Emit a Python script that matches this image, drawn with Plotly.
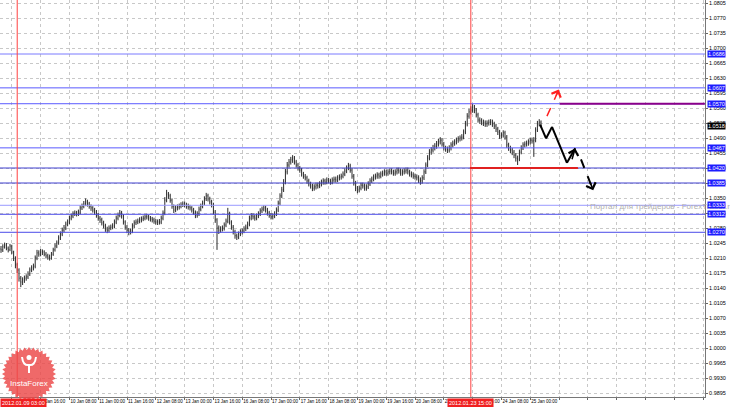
import math
import pandas as pd
import plotly.graph_objects as go

# hourly EURUSD-style bars, open of each bar = close of the previous one
first_open = 1.0231
closes = [
    1.0229, 1.0236, 1.0240, 1.0233, 1.0229, 1.0238, 1.0224, 1.0210, 1.0194, 1.0182,
    1.0163, 1.0154, 1.0159, 1.0163, 1.0166, 1.0173, 1.0182, 1.0187, 1.0191, 1.0210,
    1.0222, 1.0219, 1.0224, 1.0224, 1.0219, 1.0215, 1.0212, 1.0210, 1.0219, 1.0229,
    1.0238, 1.0245, 1.0257, 1.0266, 1.0275, 1.0280, 1.0289, 1.0294, 1.0303, 1.0308,
    1.0313, 1.0315, 1.0313, 1.0317, 1.0327, 1.0331, 1.0336, 1.0341, 1.0336, 1.0331,
    1.0327, 1.0322, 1.0317, 1.0310, 1.0303, 1.0299, 1.0292, 1.0285, 1.0278, 1.0275,
    1.0280, 1.0282, 1.0285, 1.0294, 1.0303, 1.0310, 1.0315, 1.0308, 1.0294, 1.0282,
    1.0275, 1.0271, 1.0273, 1.0285, 1.0292, 1.0294, 1.0296, 1.0299, 1.0301, 1.0303,
    1.0306, 1.0306, 1.0303, 1.0301, 1.0299, 1.0296, 1.0294, 1.0294, 1.0294, 1.0303,
    1.0315, 1.0345, 1.0359, 1.0355, 1.0345, 1.0331, 1.0322, 1.0327, 1.0329, 1.0331,
    1.0334, 1.0336, 1.0334, 1.0331, 1.0329, 1.0327, 1.0322, 1.0317, 1.0310, 1.0313,
    1.0324, 1.0331, 1.0338, 1.0348, 1.0355, 1.0348, 1.0341, 1.0334, 1.0317, 1.0299,
    1.0280, 1.0275, 1.0278, 1.0280, 1.0287, 1.0296, 1.0313, 1.0294, 1.0282, 1.0271,
    1.0262, 1.0259, 1.0266, 1.0271, 1.0273, 1.0278, 1.0282, 1.0289, 1.0303, 1.0308,
    1.0306, 1.0303, 1.0308, 1.0313, 1.0320, 1.0324, 1.0327, 1.0322, 1.0315, 1.0310,
    1.0306, 1.0308, 1.0313, 1.0322, 1.0338, 1.0355, 1.0369, 1.0387, 1.0411, 1.0427,
    1.0434, 1.0439, 1.0443, 1.0434, 1.0427, 1.0420, 1.0415, 1.0406, 1.0401, 1.0397,
    1.0390, 1.0383, 1.0378, 1.0373, 1.0376, 1.0380, 1.0378, 1.0383, 1.0387, 1.0390,
    1.0387, 1.0392, 1.0390, 1.0387, 1.0392, 1.0394, 1.0392, 1.0397, 1.0399, 1.0401,
    1.0406, 1.0413, 1.0420, 1.0425, 1.0415, 1.0401, 1.0385, 1.0373, 1.0369, 1.0373,
    1.0380, 1.0378, 1.0373, 1.0376, 1.0383, 1.0390, 1.0394, 1.0399, 1.0401, 1.0404,
    1.0401, 1.0406, 1.0408, 1.0411, 1.0408, 1.0411, 1.0413, 1.0411, 1.0408, 1.0411,
    1.0415, 1.0413, 1.0408, 1.0411, 1.0413, 1.0415, 1.0411, 1.0406, 1.0404, 1.0401,
    1.0399, 1.0397, 1.0392, 1.0390, 1.0397, 1.0411, 1.0427, 1.0443, 1.0457, 1.0462,
    1.0467, 1.0471, 1.0476, 1.0481, 1.0485, 1.0476, 1.0467, 1.0464, 1.0462, 1.0467,
    1.0474, 1.0478, 1.0481, 1.0485, 1.0488, 1.0490, 1.0492, 1.0504, 1.0523, 1.0541,
    1.0551, 1.0555, 1.0562, 1.0555, 1.0544, 1.0532, 1.0530, 1.0527, 1.0525, 1.0523,
    1.0525, 1.0527, 1.0527, 1.0523, 1.0518, 1.0511, 1.0504, 1.0495, 1.0497, 1.0502,
    1.0492, 1.0474, 1.0467, 1.0462, 1.0457, 1.0450, 1.0443, 1.0441, 1.0457, 1.0467,
    1.0474, 1.0476, 1.0478, 1.0481, 1.0485, 1.0483, 1.0485, 1.0509, 1.0523, 1.0527,
    1.0518,
]
highs = [
    1.0238, 1.0242, 1.0246, 1.0245, 1.0237, 1.0243, 1.0241, 1.0227, 1.0214, 1.0199,
    1.0186, 1.0168, 1.0165, 1.0169, 1.0172, 1.0179, 1.0188, 1.0193, 1.0197, 1.0216,
    1.0229, 1.0228, 1.0231, 1.0230, 1.0228, 1.0224, 1.0220, 1.0218, 1.0224, 1.0234,
    1.0244, 1.0251, 1.0263, 1.0272, 1.0281, 1.0287, 1.0295, 1.0300, 1.0309, 1.0314,
    1.0319, 1.0321, 1.0320, 1.0323, 1.0333, 1.0337, 1.0343, 1.0349, 1.0346, 1.0341,
    1.0335, 1.0331, 1.0327, 1.0322, 1.0315, 1.0308, 1.0304, 1.0297, 1.0290, 1.0283,
    1.0286, 1.0288, 1.0291, 1.0300, 1.0309, 1.0316, 1.0322, 1.0320, 1.0312, 1.0298,
    1.0287, 1.0280, 1.0279, 1.0291, 1.0298, 1.0300, 1.0302, 1.0305, 1.0307, 1.0309,
    1.0312, 1.0313, 1.0311, 1.0308, 1.0306, 1.0304, 1.0301, 1.0300, 1.0301, 1.0309,
    1.0321, 1.0352, 1.0369, 1.0364, 1.0360, 1.0349, 1.0335, 1.0333, 1.0335, 1.0337,
    1.0340, 1.0342, 1.0342, 1.0339, 1.0337, 1.0334, 1.0331, 1.0327, 1.0321, 1.0319,
    1.0330, 1.0337, 1.0344, 1.0354, 1.0362, 1.0360, 1.0353, 1.0346, 1.0339, 1.0322,
    1.0303, 1.0286, 1.0284, 1.0286, 1.0293, 1.0302, 1.0327, 1.0318, 1.0298, 1.0287,
    1.0276, 1.0267, 1.0272, 1.0277, 1.0279, 1.0284, 1.0288, 1.0295, 1.0309, 1.0315,
    1.0314, 1.0311, 1.0314, 1.0319, 1.0326, 1.0330, 1.0333, 1.0332, 1.0327, 1.0320,
    1.0315, 1.0314, 1.0319, 1.0328, 1.0344, 1.0361, 1.0376, 1.0394, 1.0418, 1.0434,
    1.0441, 1.0446, 1.0450, 1.0448, 1.0439, 1.0432, 1.0425, 1.0420, 1.0411, 1.0406,
    1.0402, 1.0395, 1.0388, 1.0383, 1.0382, 1.0386, 1.0386, 1.0389, 1.0393, 1.0396,
    1.0395, 1.0398, 1.0397, 1.0395, 1.0398, 1.0400, 1.0400, 1.0403, 1.0405, 1.0407,
    1.0412, 1.0419, 1.0426, 1.0432, 1.0430, 1.0420, 1.0406, 1.0390, 1.0378, 1.0379,
    1.0386, 1.0386, 1.0384, 1.0382, 1.0389, 1.0396, 1.0400, 1.0405, 1.0407, 1.0410,
    1.0409, 1.0412, 1.0414, 1.0417, 1.0416, 1.0417, 1.0419, 1.0419, 1.0416, 1.0417,
    1.0421, 1.0421, 1.0419, 1.0417, 1.0419, 1.0421, 1.0421, 1.0416, 1.0412, 1.0410,
    1.0407, 1.0405, 1.0403, 1.0398, 1.0403, 1.0417, 1.0433, 1.0450, 1.0464, 1.0469,
    1.0474, 1.0478, 1.0483, 1.0488, 1.0492, 1.0490, 1.0481, 1.0472, 1.0470, 1.0473,
    1.0480, 1.0484, 1.0487, 1.0491, 1.0494, 1.0496, 1.0499, 1.0510, 1.0530, 1.0548,
    1.0558, 1.0564, 1.0569, 1.0567, 1.0560, 1.0549, 1.0538, 1.0536, 1.0533, 1.0531,
    1.0531, 1.0533, 1.0534, 1.0533, 1.0528, 1.0523, 1.0516, 1.0509, 1.0503, 1.0508,
    1.0507, 1.0497, 1.0479, 1.0472, 1.0467, 1.0462, 1.0455, 1.0449, 1.0463, 1.0473,
    1.0480, 1.0482, 1.0484, 1.0487, 1.0491, 1.0491, 1.0492, 1.0515, 1.0530, 1.0534,
    1.0531,
]
lows = [
    1.0222, 1.0224, 1.0232, 1.0228, 1.0223, 1.0226, 1.0219, 1.0203, 1.0186, 1.0175,
    1.0155, 1.0142, 1.0147, 1.0152, 1.0157, 1.0161, 1.0168, 1.0177, 1.0181, 1.0186,
    1.0205, 1.0213, 1.0214, 1.0217, 1.0214, 1.0209, 1.0206, 1.0204, 1.0206, 1.0215,
    1.0225, 1.0233, 1.0241, 1.0252, 1.0261, 1.0270, 1.0275, 1.0284, 1.0289, 1.0298,
    1.0303, 1.0308, 1.0307, 1.0308, 1.0312, 1.0322, 1.0326, 1.0331, 1.0330, 1.0325,
    1.0320, 1.0316, 1.0311, 1.0304, 1.0297, 1.0292, 1.0286, 1.0279, 1.0271, 1.0268,
    1.0270, 1.0275, 1.0277, 1.0280, 1.0289, 1.0298, 1.0305, 1.0302, 1.0288, 1.0276,
    1.0268, 1.0263, 1.0265, 1.0268, 1.0280, 1.0287, 1.0289, 1.0291, 1.0293, 1.0296,
    1.0298, 1.0300, 1.0297, 1.0295, 1.0293, 1.0290, 1.0288, 1.0287, 1.0288, 1.0289,
    1.0298, 1.0310, 1.0340, 1.0348, 1.0339, 1.0325, 1.0315, 1.0317, 1.0321, 1.0323,
    1.0326, 1.0329, 1.0328, 1.0325, 1.0323, 1.0321, 1.0316, 1.0311, 1.0303, 1.0304,
    1.0308, 1.0319, 1.0326, 1.0333, 1.0343, 1.0342, 1.0335, 1.0328, 1.0311, 1.0292,
    1.0229, 1.0266, 1.0269, 1.0272, 1.0274, 1.0282, 1.0291, 1.0288, 1.0276, 1.0265,
    1.0255, 1.0252, 1.0254, 1.0261, 1.0265, 1.0268, 1.0273, 1.0277, 1.0284, 1.0298,
    1.0300, 1.0297, 1.0298, 1.0303, 1.0308, 1.0315, 1.0319, 1.0316, 1.0309, 1.0304,
    1.0300, 1.0300, 1.0303, 1.0308, 1.0317, 1.0333, 1.0350, 1.0364, 1.0382, 1.0405,
    1.0421, 1.0428, 1.0432, 1.0428, 1.0421, 1.0414, 1.0409, 1.0400, 1.0395, 1.0391,
    1.0384, 1.0377, 1.0372, 1.0366, 1.0367, 1.0370, 1.0372, 1.0373, 1.0377, 1.0381,
    1.0381, 1.0382, 1.0384, 1.0381, 1.0382, 1.0386, 1.0386, 1.0387, 1.0391, 1.0393,
    1.0396, 1.0401, 1.0408, 1.0415, 1.0409, 1.0395, 1.0379, 1.0366, 1.0361, 1.0363,
    1.0368, 1.0372, 1.0367, 1.0367, 1.0371, 1.0378, 1.0385, 1.0389, 1.0393, 1.0395,
    1.0395, 1.0396, 1.0400, 1.0402, 1.0402, 1.0402, 1.0405, 1.0405, 1.0402, 1.0402,
    1.0405, 1.0407, 1.0402, 1.0402, 1.0405, 1.0407, 1.0405, 1.0400, 1.0398, 1.0395,
    1.0393, 1.0391, 1.0385, 1.0381, 1.0384, 1.0392, 1.0406, 1.0422, 1.0438, 1.0451,
    1.0456, 1.0461, 1.0465, 1.0470, 1.0475, 1.0470, 1.0461, 1.0458, 1.0455, 1.0456,
    1.0461, 1.0468, 1.0472, 1.0475, 1.0479, 1.0482, 1.0484, 1.0487, 1.0499, 1.0517,
    1.0535, 1.0545, 1.0549, 1.0548, 1.0538, 1.0526, 1.0523, 1.0520, 1.0518, 1.0516,
    1.0516, 1.0519, 1.0520, 1.0516, 1.0511, 1.0504, 1.0497, 1.0488, 1.0489, 1.0491,
    1.0486, 1.0467, 1.0460, 1.0455, 1.0450, 1.0443, 1.0435, 1.0427, 1.0436, 1.0452,
    1.0462, 1.0468, 1.0470, 1.0472, 1.0475, 1.0477, 1.0446, 1.0480, 1.0504, 1.0517,
    1.0514,
]

# support / resistance levels drawn on the chart
levels = [1.0686, 1.0607, 1.0570, 1.0467, 1.0420, 1.0385, 1.0333, 1.0312, 1.0270]
level_colors = ['#7a7aff', '#5a5aff', '#5a5aff', '#5a5aff', '#4040d0',
                '#4040d0', '#9a9aff', '#4a4ae8', '#4a4ae8']
last_price = 1.0518

first_bar = "2012-01-06 18:00"
marked_times = ["2012-01-09 03:00", "2012-01-23 15:00"]
watermark = "Портал для трейдеров - ForexTrader.ru"

W, H = 730, 407
PLOT_W, PLOT_H = 705, 397


def hourly_bars(start, count):
    """Hourly bar times with weekends skipped (one bar per index)."""
    t = pd.Timestamp(start)
    out = []
    while len(out) < count:
        if t.weekday() < 5:
            out.append(t)
        t += pd.Timedelta(hours=1)
    return out


bar_times = hourly_bars(first_bar, len(closes))
idx = list(range(len(closes)))
opens = [first_open] + closes[:-1]

# x axis labels every 16 bars, like the terminal does
tick_vals = list(range(6, 400, 16))
tick_text = []
for v in tick_vals:
    if v < len(bar_times):
        t = bar_times[v]
        tick_text.append(f"{t.day} {t:%b} {t:%H:%M}")
    else:
        tick_text.append("")

fig = go.Figure()
fig.add_trace(go.Ohlc(x=idx, open=opens, high=highs, low=lows, close=closes,
                      increasing_line_color='#2a2a2a', decreasing_line_color='#2a2a2a',
                      line_width=1, tickwidth=0.25, hoverinfo='skip', showlegend=False))

shapes = []
for lv, col in zip(levels, level_colors):
    shapes.append(dict(type='line', xref='paper', x0=0, x1=1, yref='y', y0=lv, y1=lv,
                       line=dict(color=col, width=1), layer='above'))

# red vertical markers
for mt in marked_times:
    i = bar_times.index(pd.Timestamp(mt))
    shapes.append(dict(type='line', xref='x', x0=i, x1=i, yref='paper', y0=0, y1=1,
                       line=dict(color='#ff4040', width=1)))

# hand drawn forecast
shapes.append(dict(type='line', xref='x', x0=310.5, x1=391, yref='y', y0=1.0570, y1=1.0570,
                   line=dict(color='#8a008a', width=2)))
shapes.append(dict(type='line', xref='x', x0=260.5, x1=320.5, yref='y', y0=1.0420, y1=1.0420,
                   line=dict(color='#e02020', width=2)))
zig = [(299.5, 1.0521), (302.8, 1.0489), (306.1, 1.0516), (314.4, 1.0432), (319.0, 1.0466)]
for (xa, ya), (xb, yb) in zip(zig[:-1], zig[1:]):
    shapes.append(dict(type='line', xref='x', yref='y', x0=xa, y0=ya, x1=xb, y1=yb,
                       line=dict(color='#000', width=2)))
shapes.append(dict(type='line', xref='x', yref='y', x0=322.2, y0=1.0440, x1=329.0, y1=1.0368,
                   line=dict(color='#000', width=2, dash='dash')))
shapes.append(dict(type='line', xref='x', yref='y', x0=303.3, y0=1.0541, x1=309.6, y1=1.0600,
                   line=dict(color='#ff2020', width=1.5, dash='dash')))

# InstaForex badge (bottom left), centred at pixel (29, 374)
bx, by = 29 / PLOT_W, (PLOT_H - 374) / PLOT_H
teeth = []
for k in range(72):
    a = 2 * math.pi * k / 72
    r = 27 if k % 2 == 0 else 24
    teeth.append(f"{r * math.cos(a):.2f},{r * math.sin(a):.2f}")
badge = dict(xref='paper', yref='paper', xsizemode='pixel', ysizemode='pixel', xanchor=bx, yanchor=by)
shapes.append(dict(type='path', path="M " + " L ".join(teeth) + " Z",
                   fillcolor='rgba(236,72,72,0.82)', line=dict(width=0), **badge))
shapes.append(dict(type='circle', x0=-2.5, x1=2.5, y0=14, y1=19, fillcolor='white',
                   line=dict(width=0), **badge))
shapes.append(dict(type='path', path="M -7,17 Q -6,8 0,9 Q 6,8 7,17 M 0,9 L 0,1",
                   line=dict(color='white', width=2), **badge))

annotations = []
annotations.append(dict(x=588 / PLOT_W, y=1.0330, xref='paper', yref='y', text=watermark,
                        showarrow=False, xanchor='left', font=dict(size=8, color='#b0b0b0')))
# arrow heads
annotations.append(dict(x=319.0, y=1.0466, ax=317.0, ay=1.0437, xref='x', yref='y', axref='x', ayref='y',
                        text='', showarrow=True, arrowhead=4, arrowsize=1.3, arrowwidth=1.5, arrowcolor='#000'))
annotations.append(dict(x=329.0, y=1.0368, ax=327.0, ay=1.0390, xref='x', yref='y', axref='x', ayref='y',
                        text='', showarrow=True, arrowhead=4, arrowsize=1.3, arrowwidth=1.5, arrowcolor='#000'))
annotations.append(dict(x=309.8, y=1.0603, ax=308.0, ay=1.0585, xref='x', yref='y', axref='x', ayref='y',
                        text='', showarrow=True, arrowhead=4, arrowsize=1.3, arrowwidth=1.5, arrowcolor='#ff2020'))

for lv in levels:
    annotations.append(dict(x=1, y=lv, xref='paper', yref='y', text=f"{lv:.4f}", showarrow=False,
                            xanchor='left', xshift=2, bgcolor='#1c1cff', borderpad=0,
                            font=dict(size=5.5, color='white')))
annotations.append(dict(x=1, y=last_price, xref='paper', yref='y', text=f"{last_price:.4f}",
                        showarrow=False, xanchor='left', xshift=2, bgcolor='#000', borderpad=0,
                        font=dict(size=5.5, color='white')))

# red time boxes on the time scale
for k, mt in enumerate(marked_times):
    i = bar_times.index(pd.Timestamp(mt))
    t = pd.Timestamp(mt)
    box = dict(y=0, yref='paper', yanchor='top', yshift=-1, text=f"{t:%Y.%m.%d %H:%M}",
               showarrow=False, bgcolor='#f02020', borderpad=1, font=dict(size=5.5, color='white'))
    if k == 0:
        box.update(x=0, xref='paper', xanchor='left')
    else:
        box.update(x=i, xref='x', xanchor='center')
    annotations.append(box)

annotations.append(dict(x=bx, y=(PLOT_H - 383) / PLOT_H, xref='paper', yref='paper', text='InstaForex',
                        showarrow=False, xanchor='center', yanchor='middle',
                        font=dict(size=8, color='white', family='Arial')))

fig.update_layout(
    width=W, height=H,
    margin=dict(l=0, r=W - PLOT_W, t=0, b=H - PLOT_H, autoexpand=False),
    paper_bgcolor='white', plot_bgcolor='white',
    font=dict(family='Arial', size=5.5, color='#000'),
    showlegend=False,
    shapes=shapes,
    annotations=annotations,
    xaxis=dict(range=[-0.56, 391.1], rangeslider=dict(visible=False), automargin=False,
               tickvals=tick_vals, ticktext=tick_text, ticklabelposition='outside right',
               tickangle=0, tickfont=dict(size=4.5), ticks='outside', ticklen=2, tickcolor='#666',
               showgrid=True, gridcolor='#c8c8c8', griddash='dot', gridwidth=1,
               showline=True, linecolor='#777', linewidth=1, zeroline=False, fixedrange=True),
    yaxis=dict(range=[0.98857, 1.0812], side='right', tick0=1.0805, dtick=0.0035, automargin=False,
               tickformat='.4f', tickfont=dict(size=5.5), ticks='outside', ticklen=2, tickcolor='#666',
               ticklabeloverflow='allow',
               showgrid=True, gridcolor='#c8c8c8', griddash='dot', gridwidth=1,
               showline=True, linecolor='#777', linewidth=1, zeroline=False, fixedrange=True),
)

# the page body has a default 8px margin; drop it so the chart fills the window
fig.write_html("out.html", config={'displayModeBar': False},
               post_script="document.body.style.margin='0';document.body.style.padding='0';")
